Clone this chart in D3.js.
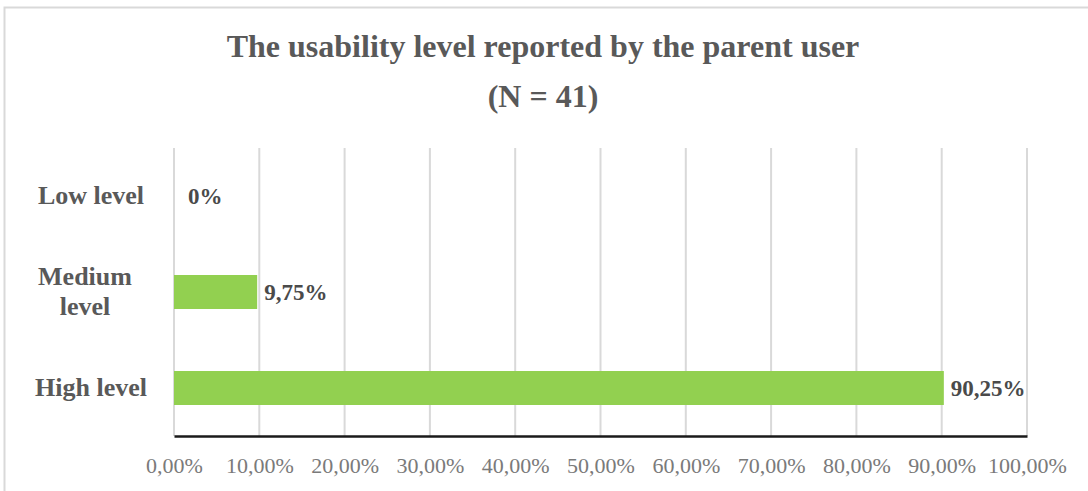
<!DOCTYPE html>
<html>
<head>
<meta charset="utf-8">
<script src="https://cdn.jsdelivr.net/npm/d3@7"></script>
<style>
  html, body { margin: 0; padding: 0; background: #fff; }
  svg { display: block; }
  text { font-family: "Liberation Serif", "Times New Roman", serif; }
</style>
</head>
<body>
<svg id="chart" width="1088" height="491"></svg>
<script>
const categories = ["Low level", "Medium level", "High level"];
const categoryLines = [["Low level"], ["Medium", "level"], ["High level"]];
const values = [0, 9.75, 90.25];
const valueLabels = ["0%", "9,75%", "90,25%"];
const tickValues = [0, 10, 20, 30, 40, 50, 60, 70, 80, 90, 100];
const tickLabels = ["0,00%", "10,00%", "20,00%", "30,00%", "40,00%", "50,00%", "60,00%", "70,00%", "80,00%", "90,00%", "100,00%"];
const titleLines = ["The usability level reported by the parent user", "(N = 41)"];

const svg = d3.select("#chart");
const W = 1088, H = 491;
const m = { left: 174, right: 1027, top: 148, bottom: 436 };

// outer frame (top and left edges visible)
svg.append("path")
  .attr("d", `M4.5,${H} L4.5,7.5 L${W},7.5`)
  .attr("fill", "none").attr("stroke", "#d9d9d9").attr("stroke-width", 2);

const x = d3.scaleLinear().domain([0, 100]).range([m.left, m.right]);
const y = d3.scaleBand().domain(categories).range([m.top, m.bottom]).paddingInner(0.646).paddingOuter(0.323);

// gridlines
svg.append("g").selectAll("line").data(tickValues).join("line")
  .attr("x1", d => x(d)).attr("x2", d => x(d))
  .attr("y1", m.top).attr("y2", m.bottom)
  .attr("stroke", "#d9d9d9").attr("stroke-width", 2);

// bars
svg.append("g").selectAll("rect").data(values).join("rect")
  .attr("x", x(0))
  .attr("y", (d, i) => y(categories[i]))
  .attr("width", d => x(d) - x(0))
  .attr("height", y.bandwidth())
  .attr("fill", "#92d050");

// x axis
const xAxis = d3.axisBottom(x).tickValues(tickValues).tickSize(0)
  .tickFormat((d, i) => tickLabels[i]);
const gx = svg.append("g").attr("transform", `translate(0,${m.bottom})`).call(xAxis);
gx.select(".domain").attr("stroke", "#1a1a1a").attr("stroke-width", 2.5);
gx.selectAll(".tick text")
  .attr("y", 37).attr("dy", 0)
  .attr("font-size", 22).attr("fill", "#7a7a7a")
  .style("font-family", "'Liberation Serif', serif");

// category labels
const catX = [91, 85, 91];
categoryLines.forEach((lines, i) => {
  const cy = y(categories[i]) + y.bandwidth() / 2;
  const t = svg.append("text")
    .attr("text-anchor", "middle")
    .attr("font-size", 26).attr("font-weight", "bold").attr("fill", "#595959");
  const n = lines.length;
  lines.forEach((ln, j) => {
    t.append("tspan").attr("x", catX[i])
      .attr("y", cy + 8 + (j - (n - 1) / 2) * 30)
      .text(ln);
  });
});

// value labels
svg.append("g").selectAll("text").data(values).join("text")
  .attr("x", (d, i) => x(d) + (d === 0 ? 14 : 7))
  .attr("y", (d, i) => y(categories[i]) + y.bandwidth() / 2 + 8)
  .attr("font-size", 23).attr("font-weight", "bold").attr("fill", "#4a4a4a")
  .text((d, i) => valueLabels[i]);

// title
svg.append("text").attr("x", 543).attr("y", 57).attr("text-anchor", "middle")
  .attr("font-size", 32).attr("font-weight", "bold").attr("fill", "#595959")
  .text(titleLines[0]);
svg.append("text").attr("x", 543).attr("y", 107).attr("text-anchor", "middle")
  .attr("font-size", 32).attr("font-weight", "bold").attr("fill", "#595959")
  .text(titleLines[1]);
</script>
</body>
</html>
